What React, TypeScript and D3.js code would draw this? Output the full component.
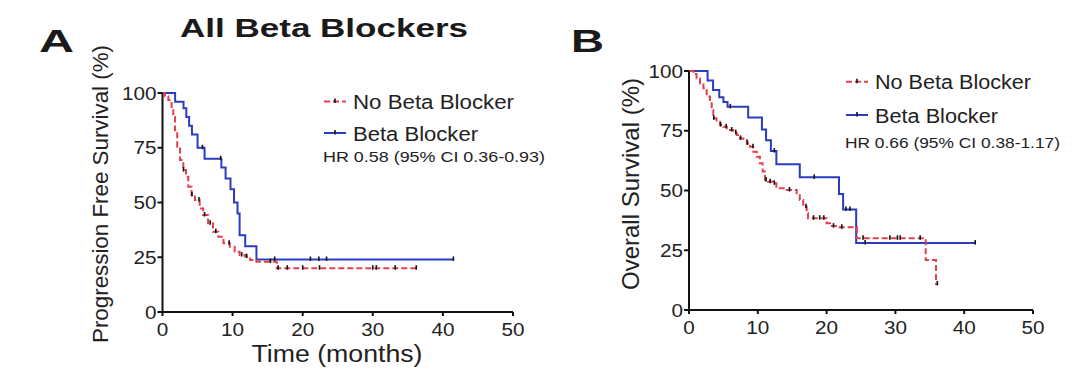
import React from 'react';
import * as d3 from 'd3';

const xTickValues = [0, 10, 20, 30, 40, 50];
const yTickValues = [0, 25, 50, 75, 100];

// Panel A: Progression free survival
const pfsBetaTimes = [0, 1.8, 3.0, 3.4, 3.8, 4.2, 5.0, 6.0, 8.4, 9.0, 9.7, 10.2, 10.7, 11.0, 11.8, 13.4, 41.5];
const pfsBetaSurv = [100, 96, 93, 89, 85, 81, 75, 70, 66, 61, 56, 50, 45, 35, 30, 24, 24];
const pfsBetaCensor = [5.7, 8.3, 16.0, 21.1, 22.3, 23.4, 41.5];

const pfsNoTimes = [0, 0.36, 0.83, 1.3, 1.54, 1.78, 2.1, 2.5, 2.97, 3.35, 3.68, 4.15, 4.63, 5.3, 5.8, 6.5, 7.2, 7.95, 8.7, 9.6, 10.3, 11.0, 11.75, 12.5, 13.4, 16.3, 36.2];
const pfsNoSurv = [100, 98.5, 96.8, 93, 89, 83, 75.5, 69.4, 64.8, 61.8, 57.2, 53.4, 51.1, 47.3, 44.3, 40.5, 36.7, 34.4, 31.4, 29.8, 27.5, 26, 25.3, 23.7, 23, 20, 20];
const pfsNoCensor = [3.0, 4.2, 5.2, 6.0, 6.8, 7.6, 9.5, 11.3, 12.0, 15.4, 16.5, 17.8, 20.0, 22.4, 30.0, 30.5, 33.2, 36.2];

// Panel B: Overall survival
const osBetaTimes = [0, 2.7, 3.5, 4.4, 5.0, 5.6, 8.6, 10.6, 11.2, 11.9, 12.7, 16.1, 21.8, 22.4, 24.3, 41.6];
const osBetaSurv = [100, 96, 92, 89, 87, 85, 80.5, 75.5, 71, 66.5, 61, 55.5, 48.5, 42, 28, 28];
const osBetaCensor = [6.0, 12.4, 18.2, 22.8, 23.4, 25.6, 41.6];

const osNoTimes = [0, 0.63, 1.1, 1.6, 2.1, 2.57, 3.05, 3.3, 3.53, 4.0, 4.5, 5.0, 5.5, 5.96, 6.44, 6.93, 7.4, 7.9, 8.4, 8.87, 9.35, 9.84, 10.3, 10.7, 11.05, 11.5, 12.25, 12.7, 13.2, 14.2, 15.65, 16.1, 16.6, 17.1, 17.3, 20.0, 20.5, 21.5, 24.4, 34.4, 35.9, 36.1];
const osNoSurv = [100, 98.7, 96.9, 94.8, 92.8, 89.3, 86.5, 83.7, 80.2, 78.8, 77.4, 76.7, 76, 75.3, 74.2, 73.2, 71.8, 71.1, 69.7, 68.3, 66.2, 64.1, 61.4, 57.9, 54.4, 53.7, 53, 51.6, 50.9, 50.2, 48.8, 46, 43.2, 40.5, 38.4, 36.3, 35.1, 34.6, 30, 20.9, 10.9, 10.9];
const osNoCensor = [3.6, 4.6, 5.4, 6.2, 6.8, 7.5, 8.5, 9.3, 11.2, 11.8, 12.4, 14.6, 17.0, 18.1, 19.0, 19.6, 21.0, 22.2, 25.3, 29.2, 30.3, 30.7, 33.6, 36.1];

const legendLabels = ['No Beta Blocker', 'Beta Blocker'];
const hrLabels = ['HR 0.58 (95% CI 0.36-0.93)', 'HR 0.66 (95% CI 0.38-1.17)'];

const RED = '#e2404c';
const BLUE = '#2a3cc0';
const FONT = '"Liberation Sans", Arial, Helvetica, sans-serif';

function stepAt(times: number[], surv: number[], t: number) {
  let idx = 0;
  for (let i = 0; i < times.length; i++) if (times[i] <= t) idx = i;
  return surv[idx];
}

function digitsLen(s: string, fs: number) {
  return s.length * 0.556 * fs * 1.15;
}

type PanelProps = {
  x0: number; x1: number; y0: number; y1: number;
  blueT: number[]; blueS: number[]; blueC: number[];
  redT: number[]; redS: number[]; redC: number[];
};

function Curves(p: PanelProps) {
  const x = d3.scaleLinear().domain([0, 50]).range([p.x0, p.x1]);
  const y = d3.scaleLinear().domain([0, 100]).range([p.y0, p.y1]);
  const line = d3.line<[number, number]>().x(d => x(d[0])).y(d => y(d[1])).curve(d3.curveStepAfter);
  const bluePts = p.blueT.map((t, i) => [t, p.blueS[i]] as [number, number]);
  const redPts = p.redT.map((t, i) => [t, p.redS[i]] as [number, number]);
  const fs = 18;
  return (
    <g>
      <path d={line(bluePts) || ''} fill="none" stroke={BLUE} strokeWidth={2} />
      <path d={line(redPts) || ''} fill="none" stroke={RED} strokeWidth={2} strokeDasharray="6,3" />
      {p.blueC.map((t, i) => {
        const cx = x(t), cy = y(stepAt(p.blueT, p.blueS, t));
        return <line key={'bc' + i} x1={cx} x2={cx} y1={cy - 3} y2={cy + 1.5} stroke="#111" strokeWidth={1.6} />;
      })}
      {p.redC.map((t, i) => {
        const cx = x(t), cy = y(stepAt(p.redT, p.redS, t));
        return <line key={'rc' + i} x1={cx} x2={cx} y1={cy - 3} y2={cy + 1.5} stroke="#111" strokeWidth={1.6} />;
      })}
      {/* axes */}
      <line x1={p.x0} x2={p.x1} y1={p.y0} y2={p.y0} stroke="#111" strokeWidth={2} />
      <line x1={p.x0} x2={p.x0} y1={p.y0} y2={p.y1} stroke="#111" strokeWidth={2} />
      {xTickValues.map(v => (
        <g key={'xt' + v}>
          <line x1={x(v)} x2={x(v)} y1={p.y0} y2={p.y0 + 4} stroke="#111" strokeWidth={2} />
          <text x={x(v)} y={p.y0 + 24} textAnchor="middle" fontFamily={FONT} fontSize={fs}
            textLength={digitsLen(String(v), fs)} lengthAdjust="spacingAndGlyphs" fill="#222">{v}</text>
        </g>
      ))}
      {yTickValues.map(v => (
        <g key={'yt' + v}>
          <line x1={p.x0 - 5} x2={p.x0} y1={y(v)} y2={y(v)} stroke="#111" strokeWidth={2} />
          <text x={p.x0 - 6} y={y(v) + 6.5} textAnchor="end" fontFamily={FONT} fontSize={fs}
            textLength={digitsLen(String(v), fs)} lengthAdjust="spacingAndGlyphs" fill="#222">{v}</text>
        </g>
      ))}
    </g>
  );
}

function Legend({ lx, tx, yRed, yBlue, hrY, hrText, hrLen, nameLens }:
  { lx: number; tx: number; yRed: number; yBlue: number; hrY: number; hrText: string; hrLen: number; nameLens: number[] }) {
  return (
    <g fontFamily={FONT} fill="#222">
      <line x1={lx} x2={lx + 22} y1={yRed} y2={yRed} stroke={RED} strokeWidth={2} strokeDasharray="6,3" />
      <line x1={lx + 11} x2={lx + 11} y1={yRed - 3} y2={yRed + 1.5} stroke="#111" strokeWidth={1.6} />
      <text x={tx} y={yRed + 7.5} fontSize={19.5} textLength={nameLens[0]} lengthAdjust="spacingAndGlyphs">{legendLabels[0]}</text>
      <line x1={lx} x2={lx + 22} y1={yBlue} y2={yBlue} stroke={BLUE} strokeWidth={2} />
      <line x1={lx + 11} x2={lx + 11} y1={yBlue - 3} y2={yBlue + 1.5} stroke="#111" strokeWidth={1.6} />
      <text x={tx} y={yBlue + 7.5} fontSize={19.5} textLength={nameLens[1]} lengthAdjust="spacingAndGlyphs">{legendLabels[1]}</text>
      <text x={lx - 1} y={hrY} fontSize={15.5} textLength={hrLen} lengthAdjust="spacingAndGlyphs">{hrText}</text>
    </g>
  );
}

export default function App() {
  return (
    <svg width={1080} height={380} style={{ position: 'absolute', left: 0, top: 0, background: '#fff' }}>
      <rect width={1080} height={380} fill="#fff" />
      {/* Panel A */}
      <text x={39} y={52} fontFamily={FONT} fontWeight={900} fontSize={32} textLength={35} lengthAdjust="spacingAndGlyphs" fill="#1a1a1a">A</text>
      <text x={324} y={37} textAnchor="middle" fontFamily={FONT} fontWeight={900} fontSize={26} textLength={288} lengthAdjust="spacingAndGlyphs" fill="#1a1a1a">All Beta Blockers</text>
      <Curves x0={162.5} x1={513} y0={312} y1={93}
        blueT={pfsBetaTimes} blueS={pfsBetaSurv} blueC={pfsBetaCensor}
        redT={pfsNoTimes} redS={pfsNoSurv} redC={pfsNoCensor} />
      <text transform="translate(108,194) rotate(-90)" textAnchor="middle" fontFamily={FONT} fontSize={22.5}
        textLength={298} lengthAdjust="spacingAndGlyphs" fill="#222">Progression Free Survival (%)</text>
      <text x={337} y={362} textAnchor="middle" fontFamily={FONT} fontSize={23}
        textLength={171} lengthAdjust="spacingAndGlyphs" fill="#222">Time (months)</text>
      <Legend lx={324} tx={353} yRed={101.5} yBlue={133} hrY={162} hrText={hrLabels[0]} hrLen={222} nameLens={[161, 125]} />

      {/* Panel B */}
      <text x={571} y={52} fontFamily={FONT} fontWeight={900} fontSize={32} textLength={33} lengthAdjust="spacingAndGlyphs" fill="#1a1a1a">B</text>
      <Curves x0={689} x1={1033} y0={310} y1={71}
        blueT={osBetaTimes} blueS={osBetaSurv} blueC={osBetaCensor}
        redT={osNoTimes} redS={osNoSurv} redC={osNoCensor} />
      <text transform="translate(639,184) rotate(-90)" textAnchor="middle" fontFamily={FONT} fontSize={24}
        textLength={212} lengthAdjust="spacingAndGlyphs" fill="#222">Overall Survival (%)</text>
      <Legend lx={846} tx={875} yRed={81.7} yBlue={115} hrY={148} hrText={hrLabels[1]} hrLen={215} nameLens={[156, 123]} />
    </svg>
  );
}
